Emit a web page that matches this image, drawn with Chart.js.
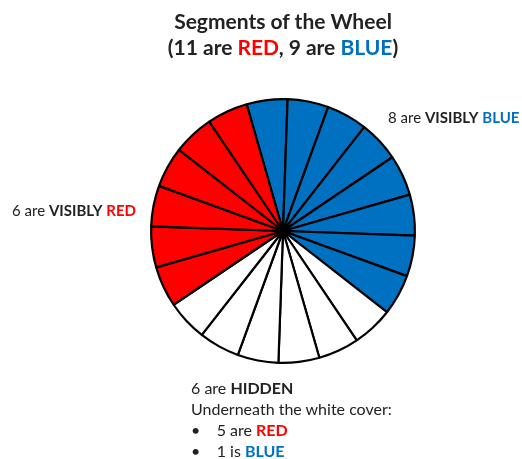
<!DOCTYPE html>
<html lang="en">
<head>
  <meta charset="UTF-8">
  <title>Segments of the Wheel</title>
  <style>
    body { margin: 0; padding: 0; background: #fff; font-family: Lato, 'Open Sans', Arial, sans-serif; }
    #wrap { position: relative; width: 522px; height: 459px; }
    canvas { position: absolute; left: 0; top: 0; }
    .txt { position: absolute; white-space: nowrap; color: #222; }
    .titulo { left: 0; width: 566px; text-align: center; font-weight: 700; font-size: 21px; }
    .lbl { font-size: 15px; }
    .baixo { font-size: 16px; }
    b { font-weight: 700; }
    .red { color: #ff0000; font-weight: 700; }
    .blue { color: #0070c0; font-weight: 700; }
  </style>
</head>
<body>
  <div id="wrap">
    <canvas id="roda" width="522" height="459"></canvas>
    <div class="txt titulo" style="top:8px">Segments of the Wheel</div>
    <div class="txt titulo" style="top:34px">(11 are <span class="red">RED</span>, 9 are <span class="blue">BLUE</span>)</div>
    <div class="txt lbl" style="left:388px;top:108px">8 are <b>VISIBLY</b> <span class="blue">BLUE</span></div>
    <div class="txt lbl" style="left:12px;top:201px">6 are <b>VISIBLY</b> <span class="red">RED</span></div>
    <div class="txt baixo" style="left:191px;top:378px">6 are <b>HIDDEN</b></div>
    <div class="txt baixo" style="left:191px;top:399px">Underneath the white cover:</div>
    <div class="txt baixo" style="left:191px;top:420px">•&nbsp;&nbsp;&nbsp;&nbsp;5 are <span class="red">RED</span></div>
    <div class="txt baixo" style="left:191px;top:441px">•&nbsp;&nbsp;&nbsp;&nbsp;1 is <span class="blue">BLUE</span></div>
  </div>
  <script src="https://cdn.jsdelivr.net/npm/chart.js"></script>
  <script>
    // segmentos em ordem horaria, a partir do topo (ligeiramente a esquerda)
    const segmentos = ['Azul','Azul','Azul','Azul','Azul','Azul','Azul','Azul',
                       'Branco','Branco','Branco','Branco','Branco','Branco',
                       'Vermelho','Vermelho','Vermelho','Vermelho','Vermelho','Vermelho'];
    const valores = [1,1,1,1,1,1,1,1,1,1,1,1,1,1,1,1,1,1,1,1];
    const CORES = { Azul: '#0070c0', Branco: '#ffffff', Vermelho: '#ff0000' };

    // ponto preto no centro onde as linhas se encontram
    const centro = {
      id: 'centro',
      afterDatasetsDraw(chart) {
        const arc = chart.getDatasetMeta(0).data[0];
        if (!arc) return;
        const ctx = chart.ctx;
        ctx.save();
        ctx.beginPath();
        ctx.arc(arc.x, arc.y, 5, 0, Math.PI * 2);
        ctx.fillStyle = '#000';
        ctx.fill();
        ctx.restore();
      }
    };

    new Chart(document.getElementById('roda').getContext('2d'), {
      type: 'pie',
      data: {
        labels: segmentos,
        datasets: [{
          data: valores,
          backgroundColor: segmentos.map(s => CORES[s]),
          borderColor: '#000',
          borderWidth: 2.2
        }]
      },
      options: {
        responsive: false,
        animation: false,
        rotation: -16,
        layout: { padding: { left: 150, right: 106, top: 98, bottom: 95 } },
        plugins: { legend: { display: false }, tooltip: { enabled: false } }
      },
      plugins: [centro]
    });
  </script>
</body>
</html>
